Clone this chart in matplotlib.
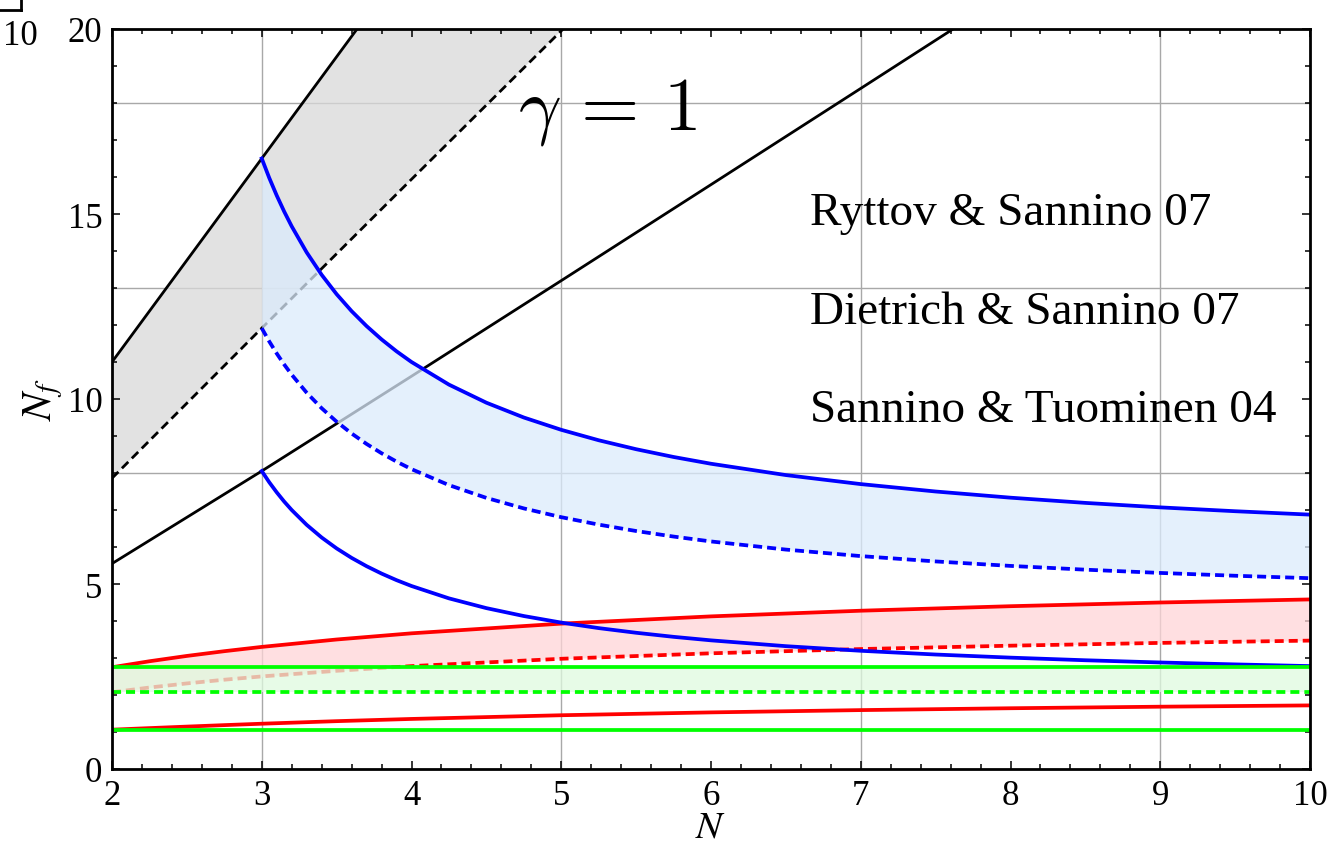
"""Conformal window in the (N, N_f) plane for SU(N) with fundamental,
two-index antisymmetric, two-index symmetric and adjoint fermions.

Each representation has an upper (asymptotic freedom) bound, a dashed
ladder estimate and a lower two-loop line; the bands are filled.
"""
import matplotlib.pyplot as plt
from matplotlib.lines import Line2D

plt.rcParams["font.family"] = ["Liberation Serif", "DejaVu Serif"]
plt.rcParams["mathtext.fontset"] = "stix"
plt.rcParams["lines.scale_dashes"] = False

# fundamental (black)
N_fund = [2, 3, 4, 5, 6, 7, 8]
fund_af = [11.0, 16.5, 22.0, 27.5, 33.0, 38.5, 44.0]
fund_sd = [7.859, 11.914, 15.938, 19.951, 23.959, 27.965, 31.970]
fund_bz = [5.551, 8.053, 10.615, 13.199, 15.794, 18.394, 20.999]

# two-index antisymmetric (blue)
N_asym = [3, 3.05, 3.1, 3.15, 3.2, 3.3, 3.4, 3.5, 3.6, 3.7, 3.8, 3.9, 4,
          4.25, 4.5, 4.75, 5, 5.25, 5.5, 5.75, 6, 6.5, 7, 7.5, 8, 8.5, 9, 9.5, 10]
asym_af = [16.5, 15.976, 15.5, 15.065, 14.667, 13.962, 13.357, 12.833, 12.375,
           11.971, 11.611, 11.289, 11.0, 10.389, 9.9, 9.5, 9.167, 8.885, 8.643,
           8.433, 8.25, 7.944, 7.7, 7.5, 7.333, 7.192, 7.071, 6.967, 6.875]
asym_sd = [11.914, 11.556, 11.230, 10.931, 10.657, 10.170, 9.751, 9.387, 9.068,
           8.785, 8.534, 8.308, 8.104, 7.673, 7.327, 7.043, 6.806, 6.605, 6.432,
           6.282, 6.150, 5.930, 5.754, 5.610, 5.489, 5.387, 5.299, 5.223, 5.157]
asym_bz = [8.053, 7.750, 7.477, 7.227, 7.000, 6.599, 6.257, 5.962, 5.706,
           5.481, 5.282, 5.104, 4.946, 4.612, 4.348, 4.134, 3.957, 3.808, 3.682,
           3.572, 3.477, 3.320, 3.195, 3.094, 3.010, 2.939, 2.879, 2.827, 2.781]

# two-index symmetric (red)
N_sym = [2, 2.25, 2.5, 2.75, 3, 3.5, 4, 5, 6, 7, 8, 9, 10]
sym_af = [2.75, 2.912, 3.056, 3.184, 3.3, 3.5, 3.667, 3.929, 4.125, 4.278, 4.4, 4.5, 4.583]
sym_sd = [2.075, 2.202, 2.313, 2.413, 2.502, 2.654, 2.781, 2.979, 3.127, 3.242, 3.333, 3.408, 3.470]
sym_bz = [1.063, 1.105, 1.146, 1.186, 1.224, 1.293, 1.353, 1.453, 1.530, 1.592, 1.642, 1.684, 1.719]

# adjoint (green)
N_adj = [2, 10]
adj_af = [2.75, 2.75]
adj_sd = [2.075, 2.075]
adj_bz = [1.063, 1.063]

grid_x = [3, 5, 7, 9]
grid_y = [8, 13, 18]
refs = ["Ryttov & Sannino 07", "Dietrich & Sannino 07", "Sannino & Tuominen 04"]
ref_y = [14.73, 12.05, 9.41]

DASH = (6.5, 3.6)
bands = [
    # N, af, sd, bz, line colour, fill colour, zorder
    (N_fund, fund_af, fund_sd, fund_bz, "black", (0.85, 0.85, 0.85), 1),
    (N_sym, sym_af, sym_sd, sym_bz, (1, 0, 0), (1.0, 0.835, 0.845), 2),
    (N_asym, asym_af, asym_sd, asym_bz, (0, 0, 1), (0.86, 0.92, 0.99), 3),
    (N_adj, adj_af, adj_sd, adj_bz, (0, 1, 0), (0.875, 0.98, 0.875), 4),
]

fig = plt.figure(figsize=(13.41, 8.45), dpi=100)
ax = fig.add_axes([112 / 1341, 75 / 845, 1198 / 1341, 740 / 845])

for gx in grid_x:
    ax.axvline(gx, color="#a8a8a8", lw=1.0, zorder=0.5)
for gy in grid_y:
    ax.axhline(gy, color="#a8a8a8", lw=1.0, zorder=0.5)

for N, af, sd, bz, lc, fc, z in bands:
    lw = 2.0 if lc == "black" else 2.7
    ax.fill_between(N, sd, af, color=fc, alpha=0.75, lw=0, zorder=z)
    ax.plot(N, af, color=lc, lw=lw, solid_joinstyle="round", zorder=z + 0.1)
    ax.plot(N, sd, color=lc, lw=lw, dashes=DASH, zorder=z + 0.1)
    ax.plot(N, bz, color=lc, lw=lw, solid_joinstyle="round", zorder=z + 0.1)

ax.text(4.71, 17.3, r"$\gamma\,=\,1$", fontsize=54, math_fontfamily="cm",
        ha="left", va="baseline", zorder=10)
for label, y in zip(refs, ref_y):
    ax.text(6.66, y, label, fontsize=34, ha="left", va="baseline", zorder=10)

ax.set_xlim(2, 10)
ax.set_ylim(0, 20)
ax.set_xticks(range(2, 11))
ax.set_xticks([2 + 0.2 * i for i in range(41)], minor=True)
ax.set_yticks([0, 5, 10, 15, 20])
ax.set_yticks(range(0, 21), minor=True)
ax.tick_params(which="both", direction="in", top=True, right=True,
               labelsize=25, pad=7, width=1.1, color="black")
ax.tick_params(which="major", length=6)
ax.tick_params(which="minor", length=3.5)
for sp in ax.spines.values():
    sp.set_linewidth(2.0)
    sp.set_zorder(20)

ax.set_xlabel("$N$", fontsize=28, labelpad=-2)
ax.set_ylabel("$N_f$", fontsize=30, labelpad=2)

# fragment of the neighbouring panel in the corner
fig.text(3 / 1341, 1 - 45 / 845, "10", fontsize=25, ha="left", va="baseline")
fig.add_artist(Line2D([0, 21 / 1341], [1 - 11 / 845, 1 - 11 / 845],
                      color="black", lw=2.0, transform=fig.transFigure))
fig.add_artist(Line2D([21 / 1341, 21 / 1341], [1, 1 - 11 / 845],
                      color="black", lw=2.0, transform=fig.transFigure))

fig.savefig("out.png", dpi=100)
